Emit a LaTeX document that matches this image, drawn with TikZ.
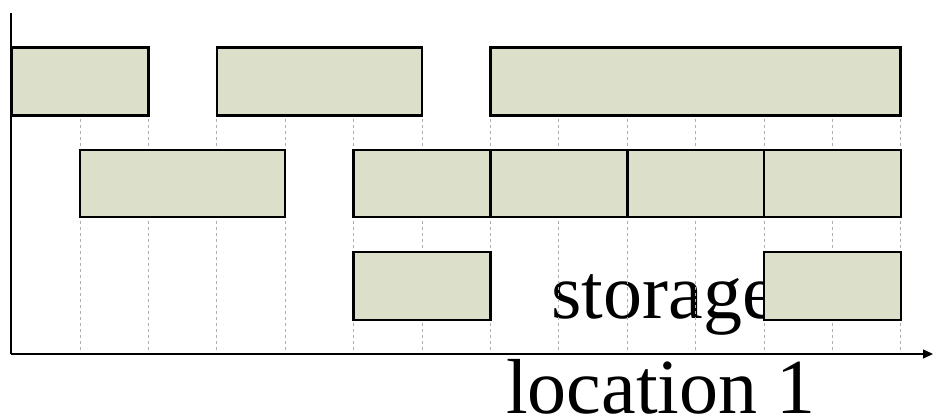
\documentclass[tikz,border=0pt]{standalone}
\usepackage{fontspec}
\setmainfont{Liberation Serif}
\usetikzlibrary{arrows.meta}
\definecolor{boxfill}{RGB}{220,224,202}
\definecolor{gridgray}{RGB}{175,175,175}
\begin{document}
\begin{tikzpicture}[x=1pt,y=-1pt,
  box/.style={draw=black, line width=2.6pt, fill=boxfill, anchor=north west, inner sep=0pt, outer sep=0pt},
  gridline/.style={draw=gridgray, line width=1pt, dash pattern=on 3pt off 3pt},
  axis/.style={draw=black, line width=1.3pt},
  lbl/.style={font=\fontsize{78}{94}\selectfont, inner sep=0pt, anchor=base, text depth=0pt}]
\useasboundingbox (0,0) rectangle (933,419);
% label text (behind grid and boxes)
\node[lbl] (t1) at (664,318) {storage};
\node[lbl] (t2) at (661,413) {location 1};
% grid lines
\foreach \k in {1,...,13} {
  \draw[gridline] ({11.6+68.4*\k},47) -- ({11.6+68.4*\k},354);
}
% axes
\coordinate (o) at (11,354);
\coordinate (ytop) at (11,13);
\coordinate (xend) at (933,354);
\draw[axis] (ytop) -- (o);
\draw[axis, -{Triangle[length=10pt,width=9pt]}] (o) -- (xend);
% row 1
\node[box, minimum width=137pt, minimum height=68pt] (a1) at (11.6,47.5) {};
\node[box, minimum width=205pt, minimum height=68pt] (a2) at (216.8,47.5) {};
\node[box, minimum width=410pt, minimum height=68pt] (a3) at (490.4,47.5) {};
% row 2
\node[box, minimum width=205pt, minimum height=67pt] (b1) at (80,150) {};
\node[box, minimum width=137pt, minimum height=67pt] (b2) at (353.6,150) {};
\node[box, minimum width=137pt, minimum height=67pt] (b3) at (490.4,150) {};
\node[box, minimum width=137pt, minimum height=67pt] (b4) at (627.2,150) {};
\node[box, minimum width=137pt, minimum height=67pt] (b5) at (764,150) {};
% row 3
\node[box, minimum width=137pt, minimum height=68pt] (c1) at (353.6,252) {};
\node[box, minimum width=137pt, minimum height=68pt] (c2) at (764,252) {};
\end{tikzpicture}
\end{document}
